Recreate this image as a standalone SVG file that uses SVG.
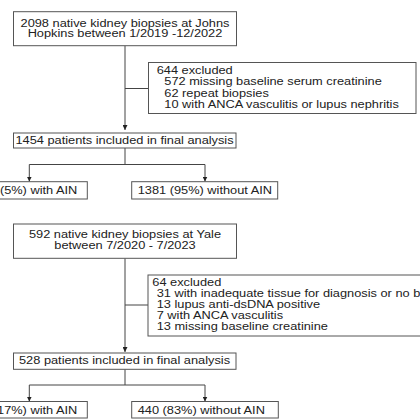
<svg xmlns="http://www.w3.org/2000/svg" width="420" height="420" viewBox="0 0 420 420">
<defs>
<style>
.box{fill:#fff;stroke:#555;stroke-width:1}
.ln{fill:none;stroke:#444;stroke-width:1}
.t{font-family:"Liberation Sans",Arial,sans-serif;font-size:10px;fill:#222}
.m{text-anchor:middle}
.e{text-anchor:end}
</style>
<marker id="ah" markerWidth="6" markerHeight="5" refX="5" refY="2.5" orient="auto" markerUnits="userSpaceOnUse">
<path d="M0,0 L5,2.5 L0,5 Z" fill="#222"/>
</marker>
</defs>
<rect width="420" height="420" fill="#fff"/>
<g id="connectors">
<path class="ln" d="M125,45.7 V130" marker-end="url(#ah)"/>
<path class="ln" d="M125,88.5 H148.5"/>
<path class="ln" d="M125,148 V164.5 M29.3,164.5 H205"/>
<path class="ln" d="M29.3,164.5 V181.5" marker-end="url(#ah)"/>
<path class="ln" d="M205,164.5 V181.5" marker-end="url(#ah)"/>
<path class="ln" d="M125,258.3 V352" marker-end="url(#ah)"/>
<path class="ln" d="M125,305 H148"/>
<path class="ln" d="M125,369.3 V385 M29.3,385 H205"/>
<path class="ln" d="M29.3,385 V401.5" marker-end="url(#ah)"/>
<path class="ln" d="M205,385 V401.5" marker-end="url(#ah)"/>
</g>
<g id="n_jh">
<rect class="box" x="13.5" y="11.7" width="223" height="34"/>
<g transform="scale(1.28,1)"><text class="t m" x="97.66" y="27.3">2098 native kidney biopsies at Johns</text>
<text class="t m" x="97.66" y="37.5">Hopkins between 1/2019 -12/2022</text></g>
</g>
<g id="n_jh_excl">
<rect class="box" x="148.5" y="62.5" width="267.5" height="51"/>
<g transform="scale(1.28,1)"><text class="t" x="122.4" y="74.3">644 excluded</text>
<text class="t" x="128.4" y="85.5">572 missing baseline serum creatinine</text>
<text class="t" x="128.4" y="96.6">62 repeat biopsies</text>
<text class="t" x="128.4" y="107.7">10 with ANCA vasculitis or lupus nephritis</text></g>
</g>
<g id="n_jh_final">
<rect class="box" x="13.5" y="133" width="222.5" height="15"/>
<g transform="scale(1.28,1)"><text class="t m" x="97.3" y="144">1454 patients included in final analysis</text></g>
</g>
<g id="n_jh_ain">
<rect class="box" x="-5" y="181.7" width="92.3" height="17.3"/>
<g transform="scale(1.28,1)"><text class="t e" x="60.4" y="193.8">(5%) with AIN</text></g>
</g>
<g id="n_jh_noain">
<rect class="box" x="131.7" y="181.7" width="146" height="17.3"/>
<g transform="scale(1.28,1)"><text class="t" x="107.6" y="193.8">1381 (95%) without AIN</text></g>
</g>
<g id="n_yale">
<rect class="box" x="13.5" y="224" width="223" height="34.3"/>
<g transform="scale(1.28,1)"><text class="t m" x="97.66" y="238.5">592 native kidney biopsies at Yale</text>
<text class="t m" x="97.66" y="249.5">between 7/2020 - 7/2023</text></g>
</g>
<g id="n_yale_excl">
<rect class="box" x="148" y="275" width="280" height="61"/>
<g transform="scale(1.28,1)"><text class="t" x="119" y="286.3">64 excluded</text>
<text class="t" x="122.4" y="297.4">31 with inadequate tissue for diagnosis or no b</text>
<text class="t" x="122.4" y="308.4">13 lupus anti-dsDNA positive</text>
<text class="t" x="122.4" y="319.4">7 with ANCA vasculitis</text>
<text class="t" x="122.4" y="330.2">13 missing baseline creatinine</text></g>
</g>
<g id="n_yale_final">
<rect class="box" x="13.5" y="353" width="222.5" height="16.3"/>
<g transform="scale(1.28,1)"><text class="t m" x="97.3" y="364.5">528 patients included in final analysis</text></g>
</g>
<g id="n_yale_ain">
<rect class="box" x="-5" y="401.5" width="92.3" height="16.5"/>
<g transform="scale(1.28,1)"><text class="t e" x="60.4" y="413.6">17%) with AIN</text></g>
</g>
<g id="n_yale_noain">
<rect class="box" x="131.7" y="401.5" width="146.6" height="16.5"/>
<g transform="scale(1.28,1)"><text class="t" x="107.6" y="413.6">440 (83%) without AIN</text></g>
</g>
</svg>
